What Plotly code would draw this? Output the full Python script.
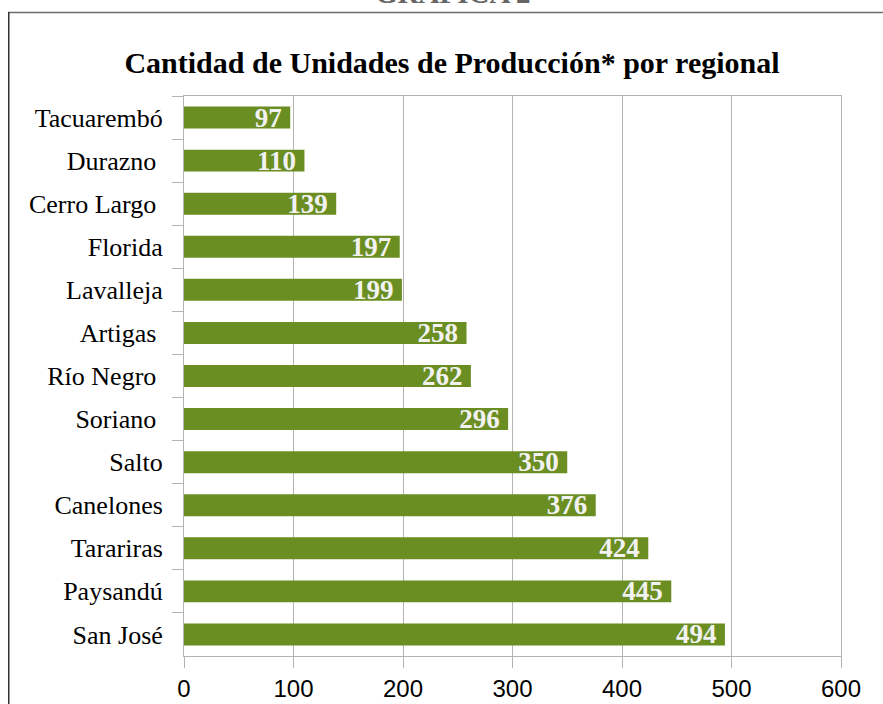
import plotly.graph_objects as go

categories = ["Tacuarembó", "Durazno\u00a0", "Cerro Largo\u00a0", "Florida", "Lavalleja",
              "Artigas\u00a0", "Río Negro\u00a0", "Soriano\u00a0", "Salto", "Canelones",
              "Tarariras", "Paysandú", "San José"]
values = [97, 110, 139, 197, 199, 258, 262, 296, 350, 376, 424, 445, 494]
x_ticks = [0, 100, 200, 300, 400, 500, 600]

W, H = 883, 704
L, T = 184, 96
R = W - 841
B = H - 656
pw, ph = W - L - R, H - T - B

def px_x(p):
    return (p - L) / pw

def px_y(p):
    return (H - B - p) / ph

fig = go.Figure(go.Bar(
    x=values, y=categories, orientation="h",
    marker=dict(color="#6b8e23", line=dict(width=0)),
    texttemplate="%{x}\u2009", textposition="inside", insidetextanchor="end",
    constraintext="none",
    textfont=dict(family="Liberation Serif", size=27, color="#f2f2f2", weight="bold"),
    hoverinfo="skip",
))

grid = "#b3b3b3"
fig.update_layout(
    width=W, height=H,
    margin=dict(l=L, r=R, t=T, b=B, autoexpand=False),
    paper_bgcolor="white", plot_bgcolor="white",
    bargap=0.49, showlegend=False,
    title=dict(text="<b>Cantidad de Unidades de Producción* por regional</b>",
               font=dict(family="Liberation Serif", size=30, color="#000000"),
               x=452 / W, xref="container", xanchor="center",
               y=1 - 62 / H, yref="container", yanchor="middle"),
    xaxis=dict(range=[0, 600], tickvals=x_ticks, ticktext=[str(v) for v in x_ticks],
               showgrid=True, gridcolor=grid, gridwidth=1, zeroline=False,
               showline=True, linecolor=grid, linewidth=1, mirror=True,
               ticks="outside", ticklen=11, tickcolor=grid, tickwidth=1,
               tickfont=dict(family="Liberation Sans Narrow, Liberation Sans", size=24,
                             color="#000000")),
    yaxis=dict(autorange="reversed", type="category", showgrid=False,
               showline=True, linecolor=grid, linewidth=1, mirror=True,
               ticks="outside", ticklen=11, tickcolor=grid, tickwidth=1,
               tickson="boundaries", ticklabelstandoff=15,
               tickfont=dict(family="Liberation Serif", size=26, color="#000000")),
)

fig.add_annotation(text="<b>GRAFICA 2</b>", xref="paper", yref="paper",
                   x=px_x(452), y=px_y(11), xanchor="center", yanchor="bottom",
                   showarrow=False,
                   font=dict(family="Liberation Serif", size=29, color="#666666"))

fig.add_shape(type="line", xref="paper", yref="paper",
              x0=px_x(8), x1=px_x(W + 5), y0=px_y(12.5), y1=px_y(12.5),
              line=dict(color="#6e6e6e", width=1.5))
fig.add_shape(type="line", xref="paper", yref="paper",
              x0=px_x(8.75), x1=px_x(8.75), y0=px_y(12), y1=px_y(H + 5),
              line=dict(color="#333333", width=1.5))

post = "document.body.style.margin='0';document.body.style.overflow='hidden';"
fig.write_html("out.html", post_script=post, config={"displayModeBar": False})
